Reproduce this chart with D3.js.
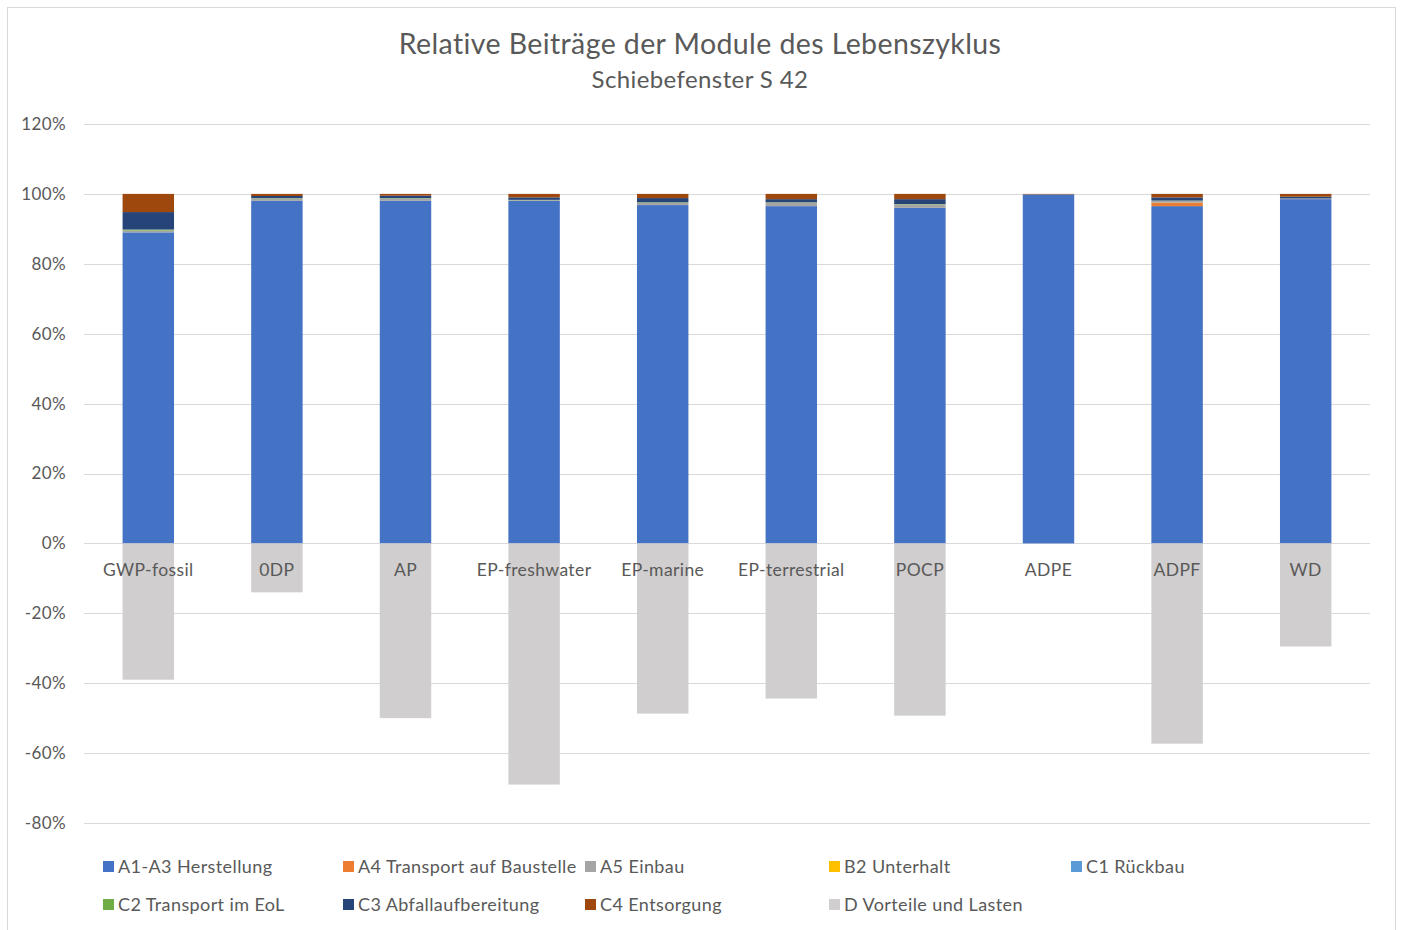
<html>
  <head>
    <style>
      body { margin: 0; background: #fff; }
      text { font-family: Lato, "Open Sans", sans-serif; fill: #595959; letter-spacing: 0.4px; }
    </style>
  </head>
  <body>
    <svg></svg>
    <script src="https://d3js.org/d3.v7.min.js"></script>
    <script>
      let width = 1403,
        height = 930;

      // categories and modules
      let categories = ["GWP-fossil", "0DP", "AP", "EP-freshwater", "EP-marine",
        "EP-terrestrial", "POCP", "ADPE", "ADPF", "WD"];
      let modules = ["A1-A3 Herstellung", "A4 Transport auf Baustelle", "A5 Einbau",
        "B2 Unterhalt", "C1 Rückbau", "C2 Transport im EoL", "C3 Abfallaufbereitung",
        "C4 Entsorgung", "D Vorteile und Lasten"];
      let colors = ["#4472C4", "#ED7D31", "#A5A5A5", "#FFC000", "#5B9BD5",
        "#70AD47", "#264478", "#9E480E", "#D0CECE"];

      // shares in % per module, one value per category
      let a1a3 = [89.0, 98.0, 98.0, 98.0, 96.8, 96.5, 96.0, 99.7, 96.5, 98.5];
      let a4 = [0.0, 0.0, 0.0, 0.0, 0.0, 0.0, 0.0, 0.0, 1.0, 0.0];
      let a5 = [0.5, 0.7, 0.7, 0.2, 0.7, 1.0, 1.0, 0.1, 0.5, 0.2];
      let b2 = [0, 0, 0, 0, 0, 0, 0, 0, 0, 0];
      let c1 = [0, 0, 0, 0, 0, 0, 0, 0, 0, 0];
      let c2 = [0.3, 0.1, 0.1, 0.1, 0.1, 0.1, 0.1, 0.0, 0.1, 0.0];
      let c3 = [5.0, 0.6, 0.7, 0.7, 1.2, 0.9, 1.4, 0.1, 0.9, 0.5];
      let c4 = [5.2, 0.6, 0.5, 1.0, 1.2, 1.5, 1.5, 0.1, 1.0, 0.8];
      let dVal = [-39.0, -14.0, -50.0, -69.0, -48.7, -44.4, -49.3, 0.0, -57.3, -29.5];

      let yTicks = [-80, -60, -40, -20, 0, 20, 40, 60, 80, 100, 120];

      let series = [a1a3, a4, a5, b2, c1, c2, c3, c4, dVal];
      let rows = categories.map((c, i) => {
        let r = { cat: c };
        modules.forEach((m, j) => (r[m] = series[j][i]));
        return r;
      });

      let svg = d3.select("svg").attr("width", width).attr("height", height);

      // chart frame
      svg.append("rect")
        .attr("x", 7.5).attr("y", 7.5)
        .attr("width", 1388).attr("height", 940)
        .attr("fill", "none").attr("stroke", "#d9d9d9");

      let x = d3.scaleBand().domain(categories).range([84, 1370]).paddingInner(0.6).paddingOuter(0.3);
      let y = d3.scaleLinear().domain([-80, 120]).range([823, 124]);

      // gridlines
      svg.append("g")
        .selectAll("line")
        .data(yTicks)
        .join("line")
        .attr("x1", 84).attr("x2", 1370)
        .attr("y1", (d) => Math.round(y(d)) + 0.5)
        .attr("y2", (d) => Math.round(y(d)) + 0.5)
        .attr("stroke", "#d9d9d9")
        .attr("stroke-width", 1);

      // y labels
      svg.append("g")
        .selectAll("text")
        .data(yTicks)
        .join("text")
        .attr("x", 66)
        .attr("y", (d) => y(d))
        .attr("dy", "0.35em")
        .attr("text-anchor", "end")
        .attr("font-size", 17)
        .text((d) => d + "%");

      // stacked bars
      let stack = d3.stack().keys(modules).offset(d3.stackOffsetDiverging);
      let stacked = stack(rows);

      svg.append("g")
        .selectAll("g")
        .data(stacked)
        .join("g")
        .attr("fill", (d, i) => colors[i])
        .selectAll("rect")
        .data((d) => d)
        .join("rect")
        .attr("x", (d) => x(d.data.cat))
        .attr("width", x.bandwidth())
        .attr("y", (d) => y(Math.max(d[0], d[1])))
        .attr("height", (d) => Math.abs(y(d[0]) - y(d[1])));

      // category labels
      svg.append("g")
        .selectAll("text")
        .data(categories)
        .join("text")
        .attr("x", (d) => x(d) + x.bandwidth() / 2)
        .attr("y", 576)
        .attr("text-anchor", "middle")
        .attr("font-size", 17.5)
        .text((d) => d);

      // title
      svg.append("text")
        .attr("x", 700).attr("y", 54)
        .attr("text-anchor", "middle")
        .attr("font-size", 28.5)
        .text("Relative Beiträge der Module des Lebenszyklus");
      svg.append("text")
        .attr("x", 700).attr("y", 88)
        .attr("text-anchor", "middle")
        .attr("font-size", 24)
        .text("Schiebefenster S 42");

      // legend
      let legX = [103, 343, 585, 829, 1071];
      let leg = svg.append("g")
        .selectAll("g")
        .data(modules)
        .join("g")
        .attr("transform", (d, i) => `translate(${legX[i % 5]},${i < 5 ? 867 : 905})`);
      leg.append("rect")
        .attr("x", 0).attr("y", -6)
        .attr("width", 11).attr("height", 11)
        .attr("fill", (d, i) => colors[i]);
      leg.append("text")
        .attr("x", 15)
        .attr("dy", "0.35em")
        .attr("font-size", 18)
        .text((d) => d);
    </script>
  </body>
</html>
